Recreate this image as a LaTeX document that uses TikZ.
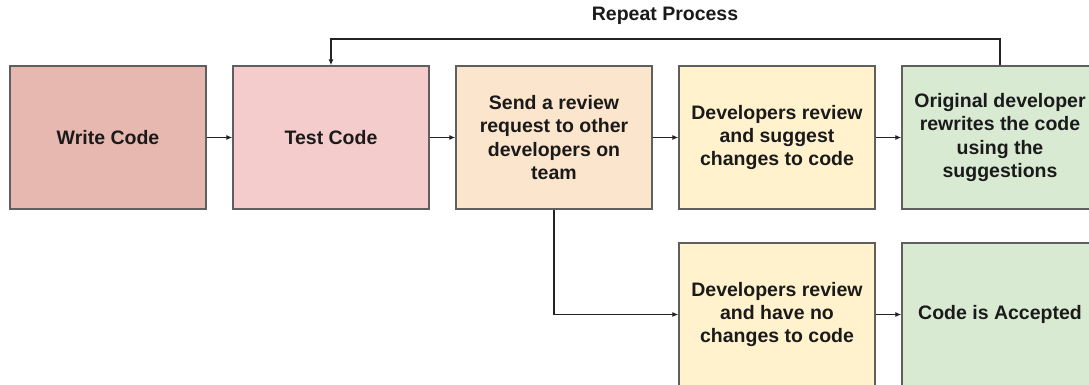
\documentclass[tikz,border=0pt]{standalone}
\usepackage{fontspec}
\setmainfont{Liberation Sans}
\usetikzlibrary{arrows.meta}
\definecolor{cWrite}{HTML}{E6B8AF}
\definecolor{cTest}{HTML}{F4CCCC}
\definecolor{cSend}{HTML}{FCE5CD}
\definecolor{cDev}{HTML}{FFF2CC}
\definecolor{cGreen}{HTML}{D9EAD3}
\definecolor{cBorder}{HTML}{5F5F5F}
\definecolor{cText}{HTML}{1A1A1A}
\definecolor{cLine}{HTML}{222222}
\tikzset{
  box/.style={draw=cBorder, line width=1.3pt, rectangle, minimum width=196pt, minimum height=143pt,
    inner sep=0pt, align=center, text=cText,
    font=\fontsize{19.5pt}{23.4pt}\selectfont\bfseries},
  arr/.style={draw=cLine, line width=1.2pt, -{Latex[length=6pt,width=5pt]}},
  lbl/.style={text=cText, font=\fontsize{19.5pt}{23.4pt}\selectfont\bfseries, inner sep=0pt}
}
\begin{document}
\begin{tikzpicture}[x=1pt,y=-1pt]
\useasboundingbox (0,0) rectangle (1089,385);
\clip (0,0) rectangle (1089,385);
\node[box, fill=cWrite] (write) at (108,137.5) {Write Code};
\node[box, fill=cTest] (test) at (331,137.5) {Test Code};
\node[box, fill=cSend] (send) at (554,137.5) {Send a review\\request to other\\developers on\\team};
\node[box, fill=cDev] (dev) at (777,137.5) {Developers review\\and suggest\\changes to code};
\node[box, fill=cGreen] (orig) at (1000,137.5) {Original developer\\rewrites the code\\using the\\suggestions};
\node[box, fill=cDev] (dev2) at (777,314.5) {Developers review\\and have no\\changes to code};
\node[box, fill=cGreen] (acc) at (1000,314.5) {Code is Accepted};
\node[lbl] (rep) at (665,16) {Repeat Process};
\coordinate (loopR) at (1000,39);
\draw[arr] (write) -- (test);
\draw[arr] (test) -- (send);
\draw[arr] (send) -- (dev);
\draw[arr] (dev) -- (orig);
\draw[arr] (orig.north) -- (loopR) -| (test.north);
\draw[arr] (send.south) |- (dev2.west);
\draw[arr] (dev2) -- (acc);
\end{tikzpicture}
\end{document}
